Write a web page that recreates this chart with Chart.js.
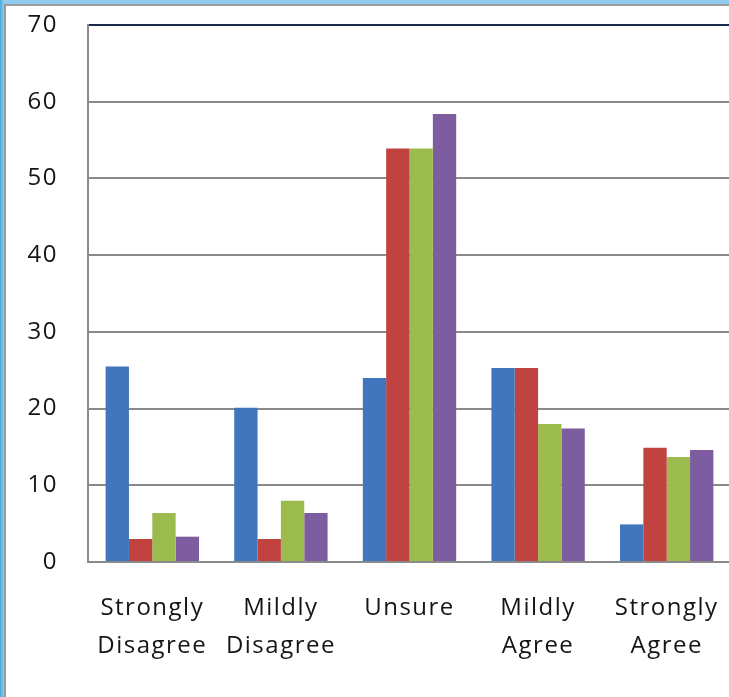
<!DOCTYPE html>
<html>
<head>
<meta charset="utf-8">
<script src="https://cdn.jsdelivr.net/npm/chart.js@4.4.0/dist/chart.umd.min.js"></script>
<style>
  html, body { margin: 0; padding: 0; }
  body { width: 729px; height: 697px; overflow: hidden; position: relative;
         background: linear-gradient(to right, #4aa9dc, #8fcbec 4px); }
  #frame { position: absolute; left: 4px; top: 4px; width: 740px; height: 710px;
           background: #ffffff; border-left: 2px solid #9a9a9a; border-top: 2px solid #9a9a9a; }
  #wrap { position: absolute; left: 0; top: 0; width: 731px; height: 697px; }
</style>
</head>
<body>
<div id="frame"></div>
<div id="wrap"><canvas id="chart"></canvas></div>
<script>
// responses per option, four groups
const categories = [['Strongly', 'Disagree'], ['Mildly', 'Disagree'], 'Unsure', ['Mildly', 'Agree'], ['Strongly', 'Agree']];
const series1 = [25.5, 20.1, 24.0, 25.3, 4.9];
const series2 = [3.0, 3.0, 53.9, 25.3, 14.9];
const series3 = [6.4, 8.0, 53.9, 18.0, 13.7];
const series4 = [3.3, 6.4, 58.4, 17.4, 14.6];
const yTicks = [0, 10, 20, 30, 40, 50, 60, 70];

const colors = ['#4276BC', '#C0433F', '#9BBB4E', '#7D5CA0'];
const allSeries = [series1, series2, series3, series4];

(function(){
  const ctx = document.getElementById('chart').getContext('2d');
  const font = { family: '"Open Sans", sans-serif', size: 24 };

  // wider letters, like the Excel screen text
  const spacing = {
    id: 'spacing',
    beforeLayout: c => { c.ctx.letterSpacing = '1.5px'; },
    beforeDraw: c => { c.ctx.letterSpacing = '1.5px'; }
  };

  new Chart(ctx, {
    type: 'bar',
    data: {
      labels: categories,
      datasets: allSeries.map((s, i) => ({
        label: 'Series ' + (i + 1),
        data: s,
        backgroundColor: colors[i],
        borderWidth: 0,
        categoryPercentage: 0.726,
        barPercentage: 1.0
      }))
    },
    options: {
      responsive: true,
      maintainAspectRatio: false,
      animation: false,
      layout: { padding: { top: 25, right: 0, left: 0, bottom: 0 } },
      plugins: { legend: { display: false }, tooltip: { enabled: false } },
      scales: {
        x: {
          // invisible tick marks stand in for the label gap (padding would shrink the plot)
          grid: { display: true, drawOnChartArea: false, drawTicks: true, tickLength: 27, tickColor: 'rgba(0,0,0,0)' },
          border: { display: true, color: '#8a8a8a', width: 2 },
          ticks: { color: '#151515', font: Object.assign({ lineHeight: 1.58 }, font), padding: 0, maxRotation: 0, autoSkip: false },
          afterFit: s => { s.height = 697 - 562; }
        },
        y: {
          min: 0,
          max: 70,
          afterBuildTicks: s => { s.ticks = yTicks.map(v => ({ value: v })); },
          grid: {
            drawTicks: true,
            tickLength: 30,
            tickColor: 'rgba(0,0,0,0)',
            lineWidth: 2,
            color: c => (c.tick && c.tick.value === 70) ? '#1b2a4a' : '#8a8a8a'
          },
          border: { display: true, color: '#8a8a8a', width: 2 },
          ticks: { color: '#151515', font: font, padding: 0 },
          afterFit: s => { s.width = 88; }
        }
      }
    },
    plugins: [spacing]
  });
})();
</script>
</body>
</html>
